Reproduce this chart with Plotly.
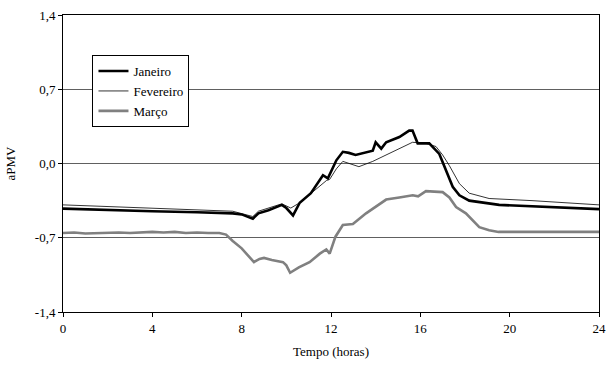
import plotly.graph_objects as go

# Data
jan_hours = [0, 2, 4, 6, 7.6, 8.0, 8.5, 8.75, 9.2, 9.8, 10.0, 10.3, 10.6, 11.1, 11.5, 11.64,
             11.86, 12.24, 12.53, 12.8, 13.1, 13.5, 13.87, 14.0, 14.25, 14.47, 15.06, 15.5,
             15.65, 15.88, 16.4, 16.85, 17.15, 17.45, 17.75, 18.19, 19.53, 21.77, 24]
jan_vals = [-0.425, -0.44, -0.45, -0.46, -0.47, -0.48, -0.52, -0.47, -0.44, -0.39, -0.42, -0.49,
            -0.37, -0.28, -0.16, -0.11, -0.14, 0.03, 0.11, 0.10, 0.08, 0.10, 0.12, 0.20, 0.14,
            0.20, 0.25, 0.31, 0.31, 0.19, 0.19, 0.09, -0.06, -0.22, -0.30, -0.35, -0.39, -0.41, -0.43]

fev_hours = [0, 4, 7.6, 8.5, 8.75, 9.8, 10.2, 10.6, 11.8, 11.94, 12.24, 12.53, 12.8, 13.25,
             13.87, 14.47, 15.06, 15.65, 16.25, 16.7, 17.0, 17.3, 17.75, 18.19, 19.08, 21.0, 24]
fev_vals = [-0.39, -0.42, -0.45, -0.50, -0.45, -0.38, -0.42, -0.37, -0.16, -0.15, -0.05, 0.02,
            0.0, -0.03, 0.02, 0.08, 0.14, 0.20, 0.19, 0.16, 0.08, -0.02, -0.19, -0.28, -0.33,
            -0.35, -0.39]

mar_hours = [0, 0.5, 1, 1.5, 2, 2.5, 3, 3.5, 4, 4.5, 5, 5.5, 6, 6.5, 7, 7.3, 7.6, 8.0, 8.43,
             8.55, 8.8, 9.0, 9.35, 9.85, 10.0, 10.17, 10.56, 11.04, 11.5, 11.79, 11.94, 12.2,
             12.53, 12.98, 13.57, 14.0, 14.47, 15.06, 15.66, 15.9, 16.25, 17.0, 17.3, 17.6,
             18.04, 18.64, 19.08, 19.5, 20.3, 21, 22, 23, 24]
mar_vals = [-0.655, -0.65, -0.66, -0.655, -0.655, -0.65, -0.655, -0.65, -0.645, -0.65, -0.645,
            -0.655, -0.65, -0.655, -0.655, -0.67, -0.73, -0.80, -0.91, -0.93, -0.90, -0.89,
            -0.91, -0.93, -0.96, -1.03, -0.98, -0.93, -0.85, -0.81, -0.85, -0.69, -0.58, -0.57,
            -0.47, -0.41, -0.34, -0.32, -0.30, -0.31, -0.26, -0.27, -0.32, -0.41, -0.47, -0.60,
            -0.63, -0.645, -0.645, -0.65, -0.645, -0.65, -0.645]

x_ticks = [0, 4, 8, 12, 16, 20, 24]
y_ticks = [-1.4, -0.7, 0.0, 0.7, 1.4]
y_tick_labels = ["-1,4", "-0,7", "0,0", "0,7", "1,4"]

FONT = "Liberation Serif"

fig = go.Figure()
fig.add_trace(go.Scatter(x=jan_hours, y=jan_vals, mode="lines", name="Janeiro",
                         line=dict(color="#000000", width=2.6)))
fig.add_trace(go.Scatter(x=fev_hours, y=fev_vals, mode="lines", name="Fevereiro",
                         line=dict(color="#000000", width=0.8)))
fig.add_trace(go.Scatter(x=mar_hours, y=mar_vals, mode="lines", name="Março",
                         line=dict(color="#808080", width=2.6)))

fig.update_layout(
    width=608, height=367,
    margin=dict(l=63, r=9, t=15, b=55, autoexpand=False),
    paper_bgcolor="white", plot_bgcolor="white",
    font=dict(family=FONT, size=13, color="black"),
    showlegend=True,
    legend=dict(x=0.055, y=0.865, xanchor="left", yanchor="top",
                bgcolor="white", bordercolor="black", borderwidth=1,
                font=dict(family=FONT, size=13, color="black"),
                itemwidth=30, tracegroupgap=0),
)
fig.update_xaxes(range=[0, 24], tickvals=x_ticks, ticks="outside", ticklen=4,
                 tickcolor="black", showgrid=False, zeroline=False, automargin=False,
                 ticklabeloverflow="allow",
                 showline=True, linecolor="black", linewidth=1, mirror=True,
                 title=dict(text="Tempo (horas)", font=dict(family=FONT, size=13), standoff=12),
                 tickfont=dict(family=FONT, size=13))
fig.update_yaxes(range=[-1.4, 1.4], tickvals=y_ticks, ticktext=y_tick_labels,
                 ticks="outside", ticklen=4, tickcolor="black", automargin=False,
                 ticklabeloverflow="allow",
                 showgrid=True, gridcolor="#606060", gridwidth=1, zeroline=False,
                 showline=True, linecolor="black", linewidth=1, mirror=True,
                 title=dict(text="aPMV", font=dict(family=FONT, size=13), standoff=16),
                 tickfont=dict(family=FONT, size=13))

# remove the default page margin so the 608x367 figure fills the window exactly
fig.write_html("out.html",
               config={"displayModeBar": False, "staticPlot": True},
               post_script="document.body.style.margin='0';document.body.style.overflow='hidden';")
